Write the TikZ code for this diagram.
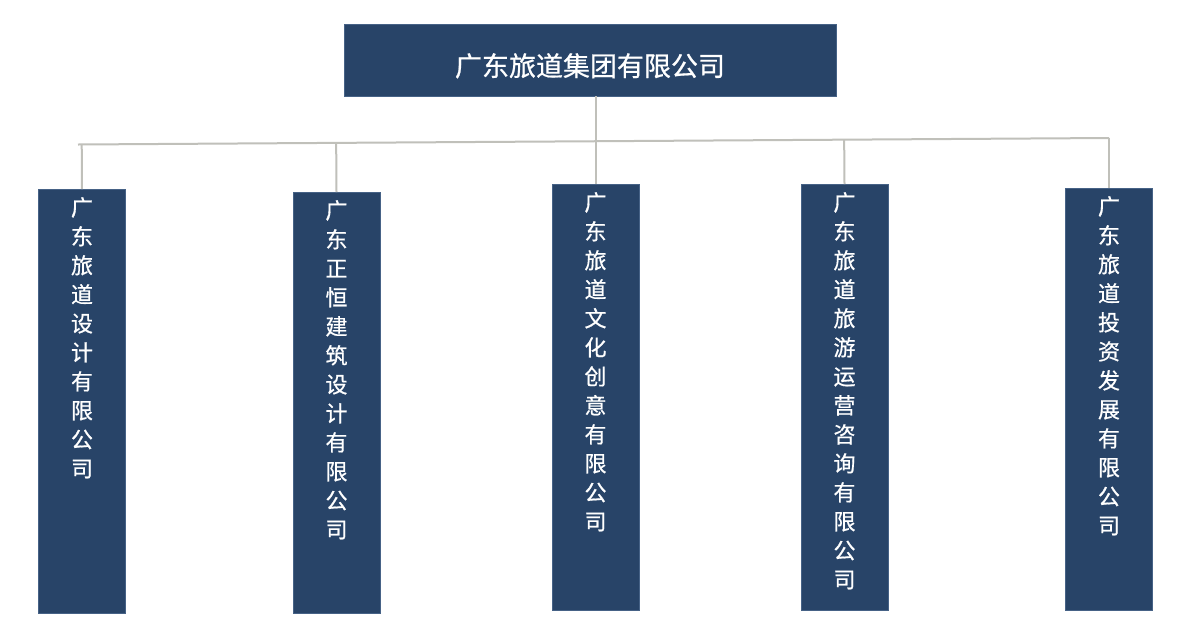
\documentclass[tikz,border=0pt]{standalone}
\usepackage{fontspec}
\newfontfamily\cjk[FakeBold=0.7]{Noto Sans CJK SC}
\usepackage{xcolor}
\usetikzlibrary{calc, positioning}
\definecolor{boxblue}{RGB}{40,68,104}
\definecolor{boxedge}{RGB}{70,98,134}
\definecolor{barline}{RGB}{192,192,186}
\tikzset{
  topbox/.style={fill=boxblue, draw=boxedge, line width=0.6pt, text=white,
    minimum width=492pt, minimum height=72pt, inner sep=0pt,
    font={\cjk\fontsize{27pt}{30pt}\selectfont}},
  subbox/.style={fill=boxblue, draw=boxedge, line width=0.6pt, minimum width=87pt,
    inner sep=0pt, anchor=north},
  subtext/.style={text=white, align=center, inner sep=0pt, node distance=8pt,
    font={\cjk\fontsize{22pt}{29pt}\selectfont}},
  link/.style={draw=barline, line width=2pt}
}
\begin{document}
\begin{tikzpicture}
      [x=1pt, y=-1pt]
      \useasboundingbox[fill=white] (0,0) rectangle (1191,630);
      % nodes %
      \node[topbox] (group) at (590,60) {\raisebox{-16pt}[0pt][0pt]{广东旅道集团有限公司}};

      \node[subbox, minimum height=424pt] (design) at (82,189) {};
      \node[subbox, minimum height=421pt] (build) at (336.5,192) {};
      \node[subbox, minimum height=426pt] (culture) at (595.5,184) {};
      \node[subbox, minimum height=426pt] (tour) at (844.5,184) {};
      \node[subbox, minimum height=422pt] (invest) at (1109,188) {};

      \node[subtext, below=of design.north] (designtxt) {广\\东\\旅\\道\\设\\计\\有\\限\\公\\司};
      \node[subtext, below=of build.north] (buildtxt) {广\\东\\正\\恒\\建\\筑\\设\\计\\有\\限\\公\\司};
      \node[subtext, below=of culture.north] (culturetxt) {广\\东\\旅\\道\\文\\化\\创\\意\\有\\限\\公\\司};
      \node[subtext, below=of tour.north] (tourtxt) {广\\东\\旅\\道\\旅\\游\\运\\营\\咨\\询\\有\\限\\公\\司};
      \node[subtext, below=of invest.north] (investtxt) {广\\东\\旅\\道\\投\\资\\发\\展\\有\\限\\公\\司};

      \coordinate (barl) at (78,144.5);
      \coordinate (barr) at (1109,138);

      % edges %
      \draw[link] (barl) -- (barr);
      \draw[link] (group.south -| culture.north) -- (culture.north);

      \draw[link] ($(barl)!(design.north)!(barr)$) -- (design.north);
      \draw[link] ($(barl)!(build.north)!(barr)$) -- (build.north);
      \draw[link] ($(barl)!(tour.north)!(barr)$) -- (tour.north);
      \draw[link] (barr) -- (invest.north);

    \end{tikzpicture}
\end{document}
